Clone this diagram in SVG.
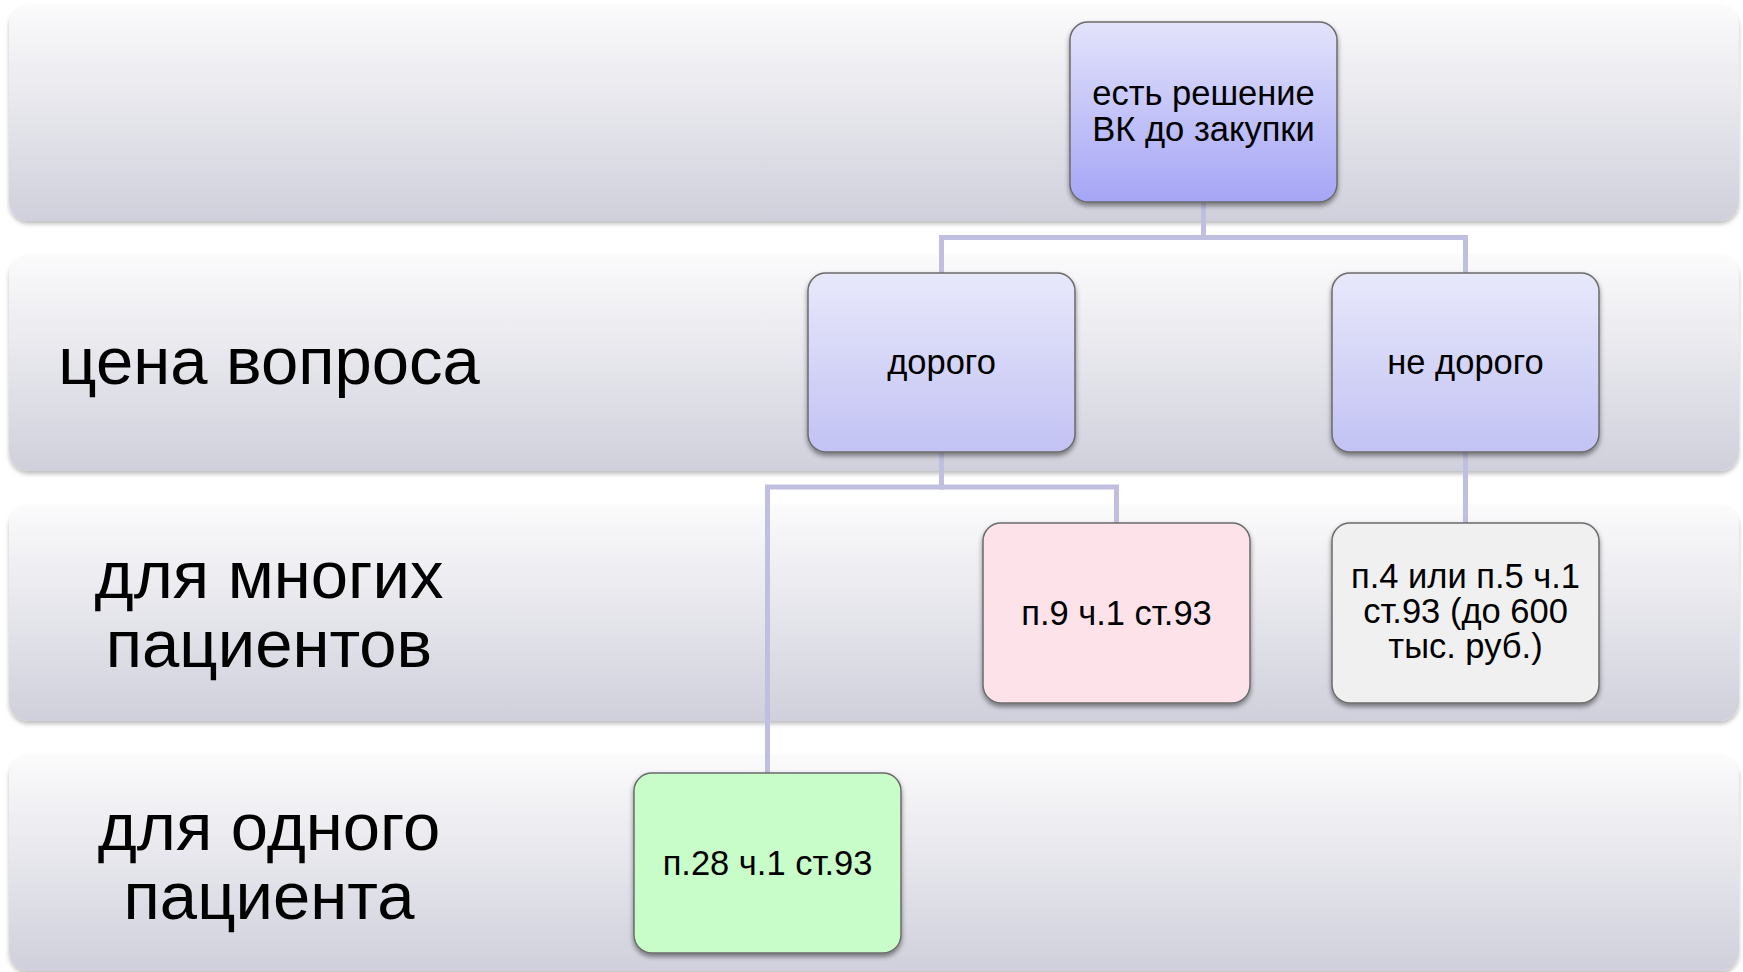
<svg xmlns="http://www.w3.org/2000/svg" width="1743" height="972" viewBox="0 0 1743 972">
<defs>
<linearGradient id="gBand" x1="0" y1="0" x2="0" y2="1">
<stop offset="0" stop-color="#fbfbfc"/>
<stop offset="1" stop-color="#d0d0dc"/>
</linearGradient>
<linearGradient id="gTop" x1="0" y1="0" x2="0" y2="1">
<stop offset="0" stop-color="#e3e3fb"/>
<stop offset="1" stop-color="#a5a5f6"/>
</linearGradient>
<linearGradient id="gMid" x1="0" y1="0" x2="0" y2="1">
<stop offset="0" stop-color="#e8e8fb"/>
<stop offset="1" stop-color="#c2c2f4"/>
</linearGradient>
<filter id="shBand" x="-2%" y="-5%" width="104%" height="115%">
<feDropShadow dx="0" dy="3" stdDeviation="2" flood-color="#000" flood-opacity="0.25"/>
</filter>
<filter id="shNode" x="-10%" y="-10%" width="120%" height="125%">
<feDropShadow dx="0" dy="3" stdDeviation="2.5" flood-color="#000" flood-opacity="0.45"/>
</filter>
</defs>
<style>
.band{fill:url(#gBand);filter:url(#shBand);}
.lbl{font-family:"Liberation Sans",Arial,sans-serif;font-size:67px;fill:#000;text-anchor:middle;}
.node rect{stroke:#6b6b6b;stroke-width:1.5;filter:url(#shNode);}
.node text{font-family:"Liberation Sans",Arial,sans-serif;font-size:34.5px;fill:#000;text-anchor:middle;}
.conn path{fill:none;stroke:#bfbfdf;stroke-width:5;stroke-linejoin:miter;}
</style>
<rect width="1743" height="972" fill="#ffffff"/>
<g id="bands">
<rect class="band" x="9" y="5" width="1730" height="216" rx="20"/>
<rect class="band" x="9" y="255" width="1730" height="216" rx="20"/>
<rect class="band" x="9" y="505" width="1730" height="216" rx="20"/>
<rect class="band" x="9" y="755" width="1730" height="216" rx="20"/>
</g>
<g id="band-labels">
<text class="lbl" x="269" y="384">цена вопроса</text>
<text class="lbl" x="269" y="598">для многих</text>
<text class="lbl" x="269" y="667">пациентов</text>
<text class="lbl" x="269" y="850">для одного</text>
<text class="lbl" x="269" y="919">пациента</text>
</g>
<g id="connectors" class="conn">
<path d="M1203.5,202 V237.5 H941.5 V273"/>
<path d="M1203.5,202 V237.5 H1465.5 V273"/>
<path d="M941.5,452 V487 H767.5 V773"/>
<path d="M941.5,452 V487 H1116.5 V523"/>
<path d="M1465.5,452 V523"/>
</g>
<g id="node-root" class="node">
<rect x="1070" y="22" width="267" height="180" rx="18" fill="url(#gTop)"/>
<text x="1203.5" y="105">есть решение</text>
<text x="1203.5" y="141">ВК до закупки</text>
</g>
<g id="node-dorogo" class="node">
<rect x="808" y="273" width="267" height="179" rx="18" fill="url(#gMid)"/>
<text x="941.5" y="374">дорого</text>
</g>
<g id="node-nedorogo" class="node">
<rect x="1332" y="273" width="267" height="179" rx="18" fill="url(#gMid)"/>
<text x="1465.5" y="374">не дорого</text>
</g>
<g id="node-p9" class="node">
<rect x="983" y="523" width="267" height="180" rx="18" fill="#fde2ea"/>
<text x="1116.5" y="625">п.9 ч.1 ст.93</text>
</g>
<g id="node-p4" class="node">
<rect x="1332" y="523" width="267" height="180" rx="18" fill="#f0f0f0"/>
<text x="1465.5" y="588">п.4 или п.5 ч.1</text>
<text x="1465.5" y="623">ст.93 (до 600</text>
<text x="1465.5" y="658">тыс. руб.)</text>
</g>
<g id="node-p28" class="node">
<rect x="634" y="773" width="267" height="180" rx="18" fill="#c8fcc8"/>
<text x="767.5" y="875">п.28 ч.1 ст.93</text>
</g>
</svg>
